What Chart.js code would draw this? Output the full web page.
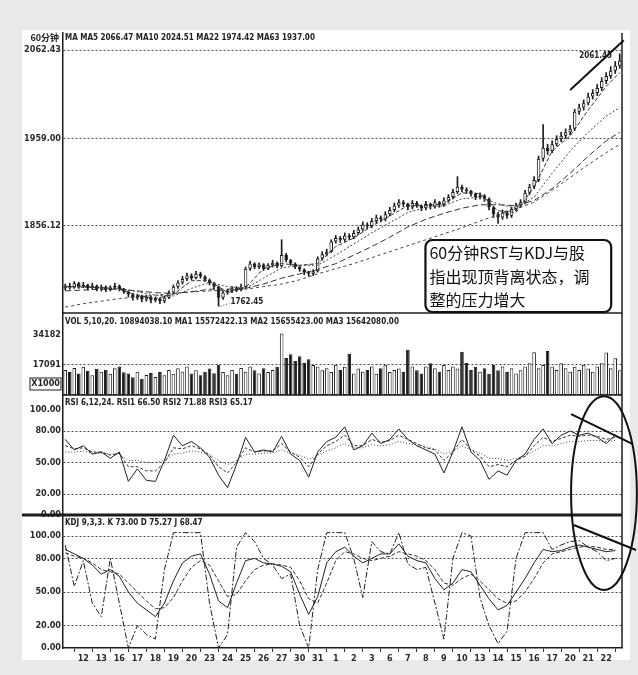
<!DOCTYPE html>
<html>
<head>
<meta charset="utf-8">
<script src="https://cdn.jsdelivr.net/npm/chart.js@4"></script>
<style>
html, body { margin: 0; padding: 0; background: #e9e9eb; }
#paper { position: absolute; left: 22px; top: 30px; width: 608px; height: 630px; background: #fff; }
#wrap { position: absolute; left: 0; top: 0; width: 638px; height: 675px; }
</style>
</head>
<body>
<div id="paper"></div>
<div id="wrap"><canvas id="myChart" width="638" height="675"></canvas></div>
<script>
// trading days on the x axis (first day is the unlabeled partial day)
var dayLabels = ['', '12', '13', '16', '17', '18', '19', '20', '23', '24', '25', '26', '27', '30', '31',
    '1', '2', '3', '6', '7', '8', '9', '10', '13', '14', '15', '16', '17', '20', '21', '22'];
var barsPerDay = 4;

// 60 minute bars
var firstOpen = 1783;
var closes = [1786, 1784, 1789, 1785, 1787, 1783, 1786, 1782, 1785, 1781, 1784, 1786, 1782, 1779,
    1776, 1772, 1774, 1770, 1773, 1769, 1771, 1768, 1772,
    1778, 1785, 1790, 1794, 1798, 1795, 1800,
    1797, 1793, 1789, 1785, 1772,
    1778, 1780, 1783, 1781, 1785,
    1806, 1812, 1808, 1811, 1806, 1810, 1813, 1809, 1822,
    1816, 1812, 1808, 1805, 1802, 1800, 1803,
    1818, 1823, 1826, 1838, 1842, 1840, 1845, 1843, 1848,
    1852, 1858, 1856, 1862, 1866, 1864, 1870,
    1875, 1880, 1884, 1882, 1878, 1883,
    1880, 1877, 1882, 1879, 1884, 1881, 1886,
    1890, 1896, 1902, 1899, 1897, 1894, 1890, 1892, 1888,
    1878, 1870, 1866, 1872, 1868, 1876, 1880, 1884,
    1895, 1902, 1910, 1935, 1948, 1944, 1952,
    1958, 1962, 1966, 1970,
    1990, 1995, 2000, 2008, 2012, 2018, 2026, 2032, 2038, 2044, 2050];
var highs = [1788, 1789, 1791, 1790, 1790, 1788, 1789, 1787, 1787, 1786, 1786, 1789, 1787, 1783,
    1780, 1777, 1776, 1775, 1775, 1774, 1773, 1772, 1774,
    1780, 1787, 1792, 1797, 1801, 1800, 1803,
    1802, 1798, 1794, 1790, 1786,
    1780, 1782, 1785, 1785, 1788,
    1808, 1815, 1813, 1813, 1812, 1812, 1816, 1814, 1840,
    1824, 1817, 1813, 1809, 1806, 1803, 1805,
    1820, 1826, 1829, 1840, 1845, 1844, 1848, 1847, 1851,
    1855, 1861, 1860, 1865, 1869, 1868, 1873,
    1878, 1883, 1887, 1886, 1883, 1886,
    1885, 1881, 1885, 1883, 1887, 1885, 1889,
    1893, 1899, 1914, 1904, 1901, 1898, 1895, 1895, 1893,
    1889, 1879, 1872, 1875, 1874, 1878, 1883, 1887,
    1898, 1905, 1914, 1938, 1975, 1952, 1956,
    1962, 1966, 1970, 1974,
    1993, 1999, 2004, 2012, 2016, 2022, 2030, 2036, 2043, 2049, 2058];
var lows = [1781, 1782, 1783, 1783, 1784, 1781, 1782, 1780, 1780, 1779, 1780, 1783, 1780, 1777,
    1773, 1769, 1770, 1767, 1768, 1766, 1767, 1765, 1766,
    1771, 1777, 1783, 1788, 1792, 1793, 1794,
    1795, 1791, 1787, 1782, 1762,
    1770, 1776, 1778, 1779, 1780,
    1784, 1804, 1806, 1806, 1804, 1805, 1808, 1807, 1808,
    1814, 1810, 1806, 1803, 1799, 1797, 1798,
    1802, 1816, 1821, 1825, 1836, 1837, 1838, 1840, 1841,
    1846, 1850, 1853, 1854, 1860, 1861, 1862,
    1868, 1873, 1878, 1879, 1875, 1876,
    1878, 1874, 1875, 1876, 1877, 1878, 1879,
    1884, 1888, 1894, 1896, 1894, 1891, 1887, 1888, 1885,
    1875, 1866, 1859, 1864, 1865, 1866, 1874, 1878,
    1882, 1893, 1900, 1908, 1932, 1940, 1942,
    1950, 1955, 1959, 1963,
    1968, 1987, 1992, 1998, 2005, 2009, 2015, 2023, 2029, 2035, 2041];

// moving averages, one reading per day start plus the last bar
var ma5 = [1785, 1785, 1784, 1782, 1775, 1771, 1776, 1792, 1792, 1778, 1784, 1806, 1812, 1810, 1812, 1832,
    1842, 1856, 1868, 1880, 1880, 1882, 1895, 1894, 1874, 1872, 1902, 1944, 1962, 1992, 2020, 2036];
var ma10 = [1784, 1784, 1784, 1783, 1779, 1775, 1774, 1783, 1790, 1785, 1783, 1795, 1807, 1810, 1810, 1822,
    1835, 1848, 1860, 1872, 1878, 1880, 1888, 1890, 1882, 1877, 1890, 1918, 1944, 1966, 1985, 1995];
var ma22 = [1780, 1781, 1782, 1782, 1780, 1778, 1777, 1779, 1782, 1782, 1783, 1788, 1795, 1800, 1805, 1812,
    1822, 1832, 1843, 1855, 1864, 1871, 1877, 1881, 1881, 1880, 1886, 1900, 1918, 1938, 1956, 1966];
var ma63 = [1761, 1765, 1768, 1771, 1773, 1775, 1777, 1779, 1780, 1781, 1782, 1785, 1788, 1793, 1800, 1806,
    1812, 1819, 1826, 1833, 1840, 1847, 1854, 1862, 1869, 1876, 1884, 1898, 1913, 1928, 1942, 1952];

// volume (x1000)
var volumes = [14200, 13100, 15400, 12300, 16100, 13800, 11200, 15000, 13300, 14400, 12100, 15200, 16300, 13000,
    12200, 10100, 13300, 9200, 11400, 12500, 10300, 13100, 11200,
    14300, 12100, 15200, 13400, 16200, 12300, 14100, 11300, 13200, 15100, 12400,
    17200,
    13100, 11200, 14300, 12100, 15400, 13300, 16200, 14100, 12200, 15300, 13100, 14200, 16100,
    35000,
    21100, 23200, 19300, 22100, 18200, 20300, 17100,
    16200, 14100, 15200, 13100, 17300, 14200, 16100, 23300, 12200,
    15100, 13200, 14300, 16200, 12100, 15300, 17200, 13100, 14200, 15100, 13300, 25800, 16200,
    14100, 12300, 16200, 18100, 15300, 13200, 17100, 14300, 16200, 15100, 24600, 18200,
    14200, 16100, 13300, 15200, 12100, 17300, 14100, 16200, 13100, 15300, 12200, 14100,
    16300, 18100, 24300, 15200, 17100, 25100, 16300, 14200, 18100, 15300, 13200,
    16100, 14300, 17200, 15100, 13300, 16200, 18100, 24200, 15300, 21000, 14100];

// RSI and KDJ, one reading every two bars
var rsi6 = [72, 62, 66, 58, 60, 54, 60, 32, 44, 33, 32, 52, 76, 66, 70, 64, 55, 38, 26, 48,
    74, 60, 62, 60, 75, 58, 52, 36, 60, 70, 74, 84, 62, 66, 78, 68, 72, 82, 72, 66,
    62, 58, 40, 60, 84, 60, 52, 34, 42, 38, 52, 58, 72, 82, 68, 76, 80, 76, 78, 74, 68, 76];
var rsi12 = [66, 63, 64, 60, 60, 57, 59, 46, 46, 42, 42, 50, 64, 63, 66, 63, 57, 46, 40, 50,
    64, 60, 61, 61, 68, 60, 55, 46, 58, 66, 70, 76, 66, 66, 72, 69, 71, 76, 72, 68,
    64, 62, 52, 60, 72, 62, 56, 46, 48, 46, 52, 56, 66, 74, 70, 73, 76, 75, 76, 75, 72, 74];
var rsi24 = [60, 60, 61, 59, 59, 58, 58, 52, 52, 50, 50, 52, 58, 59, 61, 60, 58, 52, 48, 52,
    58, 58, 59, 59, 62, 59, 57, 53, 57, 61, 64, 68, 64, 64, 67, 66, 67, 70, 68, 67,
    65, 63, 58, 61, 66, 62, 59, 54, 54, 52, 54, 56, 61, 66, 66, 68, 70, 70, 71, 71, 70, 71];
var kdjK = [88, 84, 80, 74, 66, 70, 64, 50, 40, 34, 28, 40, 60, 76, 82, 84, 66, 42, 36, 58,
    78, 80, 76, 75, 73, 68, 48, 30, 46, 76, 86, 90, 82, 76, 80, 84, 84, 93, 82, 78,
    76, 62, 52, 58, 70, 68, 56, 44, 34, 38, 50, 62, 76, 88, 86, 87, 90, 92, 90, 88, 86, 87];
var kdjD = [85, 82, 80, 76, 70, 68, 66, 58, 50, 42, 35, 36, 45, 60, 72, 78, 74, 60, 46, 48,
    60, 70, 74, 75, 74, 72, 60, 44, 40, 58, 78, 86, 84, 80, 78, 80, 82, 86, 84, 82,
    78, 70, 58, 56, 62, 66, 60, 52, 44, 40, 42, 50, 62, 76, 84, 86, 88, 90, 91, 90, 88, 88];
var kdjJ = [92, 55, 78, 40, 28, 80, 40, 0, 20, 12, 8, 70, 103, 103, 103, 103, 40, 0, 12, 90,
    103, 95, 80, 74, 62, 66, 20, 0, 70, 103, 103, 103, 80, 45, 95, 86, 84, 103, 75, 70,
    72, 40, 8, 80, 103, 100, 45, 20, 4, 15, 80, 103, 103, 103, 88, 92, 95, 96, 90, 86, 78, 80];

// axis ticks
var priceTicks = [1856.12, 1959.00, 2062.43];
var volTicks = [17091, 34182];
var oscTicks = [0, 20, 50, 80, 100];

var priceHead = 'MA MA5 2066.47 MA10 2024.51 MA22 1974.42 MA63 1937.00';
var volHead = 'VOL 5,10,20. 10894038.10 MA1 15572422.13 MA2 15655423.00 MA3 15642080.00';
var rsiHead = 'RSI 6,12,24. RSI1 66.50 RSI2 71.88 RSI3 65.17';
var kdjHead = 'KDJ 9,3,3. K 73.00 D 75.27 J 68.47';
var noteLines = ['60分钟RST与KDJ与股', '指出现顶背离状态，调', '整的压力增大'];

var labels = [];
for (var d = 0; d < dayLabels.length; d++) {
    for (var b = 0; b < barsPerDay; b++) labels.push(b === 0 ? dayLabels[d] : '');
}
var opens = [firstOpen].concat(closes.slice(0, -1));
var bodies = closes.map(function (c, i) { return [opens[i], c]; });
var wicks = closes.map(function (c, i) { return [lows[i], highs[i]]; });
var fills = closes.map(function (c, i) { return c >= opens[i] ? '#ffffff' : '#151515'; });

var maIdx = ma5.map(function (v, k) { return k < dayLabels.length ? k * barsPerDay : closes.length - 1; });
var oscIdx = rsi6.map(function (v, k) { return k * 2; });
function spread(vals, idx) {
    var out = labels.map(function () { return null; });
    vals.forEach(function (v, k) { out[idx[k]] = v; });
    return out;
}

var ink = '#1c1c1c';
var tickFont = { family: '"Liberation Sans Narrow", "DejaVu Sans Condensed", sans-serif', size: 9, weight: 'bold' };

function yAxis(weight, min, max, tickVals, gridVals, fmt) {
    return {
        type: 'linear', position: 'left', stack: 'panels', stackWeight: weight,
        min: min, max: max,
        afterBuildTicks: function (s) { s.ticks = tickVals.map(function (v) { return { value: v }; }); },
        afterFit: function (s) { s.width = 41; },
        grid: {
            drawTicks: false, lineWidth: 1,
            color: function (c) { return c.tick && gridVals.indexOf(c.tick.value) >= 0 ? '#4a4a4a' : 'rgba(0,0,0,0)'; }
        },
        border: { display: true, color: ink, width: 1.5, dash: [2, 2] },
        ticks: { padding: 2, color: '#2a2a2a', font: tickFont, callback: fmt }
    };
}

function line(ctx, x0, y0, x1, y1) {
    ctx.beginPath(); ctx.moveTo(x0, y0); ctx.lineTo(x1, y1); ctx.stroke();
}

var decor = {
    id: 'decor',
    afterDraw: function (chart) {
        var ctx = chart.ctx, a = chart.chartArea, s = chart.scales;
        var x = s.x, yP = s.yP, yV = s.yV, yR = s.yR, yK = s.yK;
        var padL = chart.options.layout.padding.left;
        ctx.save();
        ctx.strokeStyle = ink;
        ctx.lineWidth = 1.5;
        line(ctx, a.right, a.top, a.right, a.bottom);
        line(ctx, a.left, yV.top, a.right, yV.top);
        line(ctx, a.left, yR.top, a.right, yR.top);
        ctx.lineWidth = 3;
        line(ctx, padL, yK.top, a.right, yK.top);

        // panel headers
        ctx.fillStyle = '#222';
        ctx.textBaseline = 'middle';
        ctx.font = 'bold 8px "DejaVu Sans Condensed", "DejaVu Sans", sans-serif';
        ctx.fillText(priceHead, a.left + 2, yP.top + 5);
        ctx.fillText(volHead, a.left + 2, yV.top + 9);
        ctx.fillText(rsiHead, a.left + 2, yR.top + 8);
        ctx.fillText(kdjHead, a.left + 2, yK.top + 8);
        ctx.font = 'bold 9px "Noto Sans CJK SC", sans-serif';
        ctx.textAlign = 'right';
        ctx.fillText('60分钟', a.left - 4, yP.top + 5);

        // volume unit
        ctx.font = 'bold 9px "Liberation Sans Narrow", "DejaVu Sans Condensed", sans-serif';
        var uy = yV.bottom - 11;
        ctx.fillText('X1000', a.left - 3, uy);
        ctx.lineWidth = 1;
        ctx.strokeRect(a.left - 33, uy - 6, 31, 12);

        // high / low marks
        ctx.font = 'bold 8px "DejaVu Sans Condensed", sans-serif';
        ctx.fillText('2061.45', x.getPixelForValue(121.3), yP.getPixelForValue(highs[123]) + 2);
        ctx.textAlign = 'left';
        var lx = x.getPixelForValue(34);
        ctx.fillText('1762.45', lx + 12, yP.getPixelForValue(lows[34]) - 4);
        ctx.setLineDash([1, 2]);
        line(ctx, lx + 2, yP.getPixelForValue(lows[34]), lx + 11, yP.getPixelForValue(lows[34]) - 3);
        ctx.setLineDash([]);

        // note box
        var bx0 = x.getPixelForValue(79.9), bx1 = x.getPixelForValue(121.1);
        var by0 = yP.getPixelForValue(1839.7), by1 = yP.bottom - 1;
        ctx.beginPath();
        if (ctx.roundRect) ctx.roundRect(bx0, by0, bx1 - bx0, by1 - by0, 7);
        else ctx.rect(bx0, by0, bx1 - bx0, by1 - by0);
        ctx.fillStyle = '#fff';
        ctx.fill();
        ctx.lineWidth = 2.2;
        ctx.strokeStyle = '#111';
        ctx.stroke();
        ctx.fillStyle = '#111';
        ctx.font = '16px "Noto Sans CJK SC", sans-serif';
        noteLines.forEach(function (t, k) { ctx.fillText(t, bx0 + 4, by0 + 13 + k * 23.5); });

        // hand drawn marks
        ctx.lineWidth = 2;
        line(ctx, x.getPixelForValue(112), yP.getPixelForValue(2015.6), x.getPixelForValue(123.9), yP.getPixelForValue(2074));
        line(ctx, x.getPixelForValue(112.2), yR.getPixelForValue(96), x.getPixelForValue(125.9), yR.getPixelForValue(67.6));
        line(ctx, x.getPixelForValue(112.8), yK.getPixelForValue(109.8), x.getPixelForValue(126.6), yK.getPixelForValue(87.5));
        var ecx = x.getPixelForValue(119.5);
        var etop = yR.getPixelForValue(113), ebot = yK.getPixelForValue(51.8);
        ctx.beginPath();
        ctx.ellipse(ecx, (etop + ebot) / 2, ecx - x.getPixelForValue(112.2), (ebot - etop) / 2, 0, 0, Math.PI * 2);
        ctx.stroke();
        ctx.restore();
    }
};

var ctx = document.getElementById('myChart').getContext('2d');
var myChart = new Chart(ctx, {
    type: 'bar',
    data: {
        labels: labels,
        datasets: [
            { type: 'bar', yAxisID: 'yP', data: wicks, grouped: false, barThickness: 1, backgroundColor: ink, borderWidth: 0, order: 5 },
            { type: 'bar', yAxisID: 'yP', data: bodies, grouped: false, barPercentage: 0.78, categoryPercentage: 1, backgroundColor: fills, borderColor: ink, borderWidth: 1, borderSkipped: false, order: 4 },
            { type: 'line', yAxisID: 'yP', data: spread(ma5, maIdx), borderColor: '#333', borderWidth: 1, borderDash: [4, 2], pointRadius: 0, spanGaps: true, order: 1 },
            { type: 'line', yAxisID: 'yP', data: spread(ma10, maIdx), borderColor: '#444', borderWidth: 1, borderDash: [2, 2], pointRadius: 0, spanGaps: true, order: 1 },
            { type: 'line', yAxisID: 'yP', data: spread(ma22, maIdx), borderColor: '#333', borderWidth: 1, borderDash: [6, 3], pointRadius: 0, spanGaps: true, order: 1 },
            { type: 'line', yAxisID: 'yP', data: spread(ma63, maIdx), borderColor: '#444', borderWidth: 1, borderDash: [3, 3], pointRadius: 0, spanGaps: true, order: 1 },
            { type: 'bar', yAxisID: 'yV', data: volumes, grouped: false, barPercentage: 0.8, categoryPercentage: 1, backgroundColor: fills, borderColor: ink, borderWidth: 1, borderSkipped: false, order: 4 },
            { type: 'line', yAxisID: 'yR', data: spread(rsi6, oscIdx), borderColor: '#222', borderWidth: 1, pointRadius: 0, spanGaps: true, order: 1 },
            { type: 'line', yAxisID: 'yR', data: spread(rsi12, oscIdx), borderColor: '#333', borderWidth: 1, borderDash: [3, 2], pointRadius: 0, spanGaps: true, order: 1 },
            { type: 'line', yAxisID: 'yR', data: spread(rsi24, oscIdx), borderColor: '#444', borderWidth: 1, borderDash: [1, 2], pointRadius: 0, spanGaps: true, order: 1 },
            { type: 'line', yAxisID: 'yK', data: spread(kdjK, oscIdx), borderColor: '#222', borderWidth: 1, pointRadius: 0, spanGaps: true, order: 1 },
            { type: 'line', yAxisID: 'yK', data: spread(kdjD, oscIdx), borderColor: '#333', borderWidth: 1, borderDash: [4, 2], pointRadius: 0, spanGaps: true, order: 1 },
            { type: 'line', yAxisID: 'yK', data: spread(kdjJ, oscIdx), borderColor: '#222', borderWidth: 1, borderDash: [6, 2, 2, 2], pointRadius: 0, spanGaps: true, order: 1 }
        ]
    },
    options: {
        responsive: false,
        animation: false,
        devicePixelRatio: 1,
        layout: { padding: { left: 22, right: 16, top: 33, bottom: 10 } },
        plugins: { legend: { display: false }, tooltip: { enabled: false } },
        scales: {
            x: {
                type: 'category',
                afterFit: function (s) { s.height = 17; },
                grid: { display: true, drawOnChartArea: false, drawTicks: true, tickLength: 4, color: '#333' },
                border: { display: true, color: ink, width: 1.5 },
                ticks: {
                    autoSkip: false, maxRotation: 0, padding: 1, color: '#2a2a2a', font: tickFont,
                    callback: function (v) { return v % barsPerDay === 0 && v > 0 ? labels[v] : null; }
                }
            },
            yK: yAxis(133, 0, 118.75, oscTicks, [20, 50, 80, 100], function (v) { return v.toFixed(2); }),
            yR: yAxis(120, 0, 114.3, oscTicks, [20, 50, 80], function (v) { return v.toFixed(2); }),
            yV: yAxis(82, 0, 46715, volTicks, [17091], function (v) { return String(v); }),
            yP: yAxis(280, 1754.1, 2082.4, priceTicks, priceTicks, function (v) { return v.toFixed(2); })
        }
    },
    plugins: [decor]
});
</script>
</body>
</html>
